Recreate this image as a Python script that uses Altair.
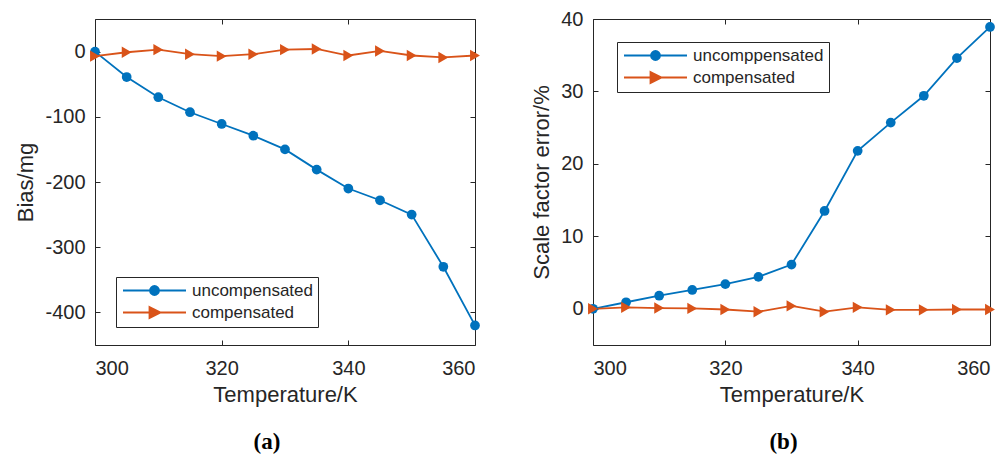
import altair as alt
import pandas as pd

temps = [300, 305, 310, 315, 320, 325, 330, 335, 340, 345, 350, 355, 360]

bias_uncomp = [0, -39, -70, -93, -111, -129, -150, -181, -210, -228, -250, -330, -420]
bias_comp = [-7, -1, 3, -4, -7, -4, 3, 4, -6, 1, -6, -9, -6]

sf_uncomp = [0, 0.9, 1.8, 2.6, 3.4, 4.4, 6.1, 13.5, 21.8, 25.7, 29.4, 34.6, 38.9]
sf_comp = [0, 0.2, 0.1, 0.05, -0.1, -0.4, 0.4, -0.4, 0.2, -0.15, -0.15, -0.1, -0.1]

names_a = ["uncompensated", "compensated"]
names_b = ["uncomppensated", "compensated"]

x_ticks = [300, 320, 340, 360]
y_ticks_a = [-400, -300, -200, -100, 0]
y_ticks_b = [0, 10, 20, 30, 40]

BLUE = "#0072BD"
ORANGE = "#D95319"
INK = "#262626"
FONT = "Liberation Sans"

# legend symbol paths (unit = 5px at size 100): line through marker
P_CIRCLE = "M-6.3,0L6.3,0M0.9,0A0.9,0.9,0,1,1,-0.9,0A0.9,0.9,0,1,1,0.9,0Z"
P_TRI = "M-6.3,0L6.3,0M-1,-1.1L1.2,0L-1,1.1Z"


def pick(a, b):
    return {"expr": "datum.index === 0 ? '%s' : '%s'" % (a, b)}


def panel(names, unc, comp, ydom, yticks, ytitle, lx, ly, caption, cap_dx):
    df = pd.DataFrame({
        "T": temps + temps,
        "v": unc + comp,
        "s": [names[0]] * len(temps) + [names[1]] * len(temps),
    })
    color_scale = alt.Scale(domain=names, range=[BLUE, ORANGE])
    shape_scale = alt.Scale(range=["circle", "triangle-right"])
    size_scale = alt.Scale(range=[95, 130])
    xs = alt.Scale(domain=[300, 360], nice=False)
    ys = alt.Scale(domain=ydom, nice=False, zero=False)
    legend = alt.Legend(
        orient="none", legendX=lx, legendY=ly, title=None,
        padding=5, rowPadding=4, symbolOffset=25, labelOffset=29,
        strokeColor=INK, fillColor="white",
        labelFont=FONT, labelFontSize=17, labelColor=INK,
        symbolSize=100, symbolStrokeWidth=1.8, symbolOpacity=1,
        symbolType=pick(P_CIRCLE, P_TRI),
        symbolFillColor=pick(BLUE, ORANGE),
        symbolStrokeColor=pick(BLUE, ORANGE),
    )
    base = alt.Chart(df)
    # layer 1: invisible points carrying the legend and the labelled axes
    guide = base.mark_point(filled=True, size=0).encode(
        x=alt.X("T:Q", scale=xs,
                axis=alt.Axis(orient="bottom", values=x_ticks, offset=-5, tickSize=5,
                              labelPadding=13, title="Temperature/K", titlePadding=6)),
        y=alt.Y("v:Q", scale=ys,
                axis=alt.Axis(orient="left", values=yticks, offset=-5, tickSize=5,
                              labelPadding=10, title=ytitle, titlePadding=7,
                              labelExpr="'' + datum.value")),
        color=alt.Color("s:N", scale=color_scale, legend=legend),
    )
    # layer 2: lines, with the tick-only top/right axes
    line = base.mark_line(strokeWidth=1.8).encode(
        x=alt.X("T:Q", scale=xs,
                axis=alt.Axis(orient="top", values=x_ticks, offset=-5, tickSize=5,
                              labels=False, title=None)),
        y=alt.Y("v:Q", scale=ys,
                axis=alt.Axis(orient="right", values=yticks, offset=-5, tickSize=5,
                              labels=False, title=None)),
        color=alt.Color("s:N", scale=color_scale, legend=None),
    )
    # layer 3: markers on top of the lines
    pts = base.mark_point(filled=True, opacity=1).encode(
        x=alt.X("T:Q", scale=xs, axis=None),
        y=alt.Y("v:Q", scale=ys, axis=None),
        color=alt.Color("s:N", scale=color_scale, legend=None),
        shape=alt.Shape("s:N", scale=shape_scale, sort=names, legend=None),
        size=alt.Size("s:N", scale=size_scale, sort=names, legend=None),
    )
    return alt.layer(guide, line, pts).resolve_axis(x="independent", y="independent").properties(
        title=alt.Title(caption, orient="bottom", anchor="middle", font="Liberation Serif",
                        fontSize=23, fontWeight="bold", color="black", offset=26, dx=cap_dx)
    )


pa = panel(names_a, bias_uncomp, bias_comp, [-450, 50], y_ticks_a, "Bias/mg", 21, 258, "(a)", -18).properties(width=380, height=326)
pb = panel(names_b, sf_uncomp, sf_comp, [-5, 40], y_ticks_b, "Scale factor error/%", 24, 23, "(b)", -8).properties(width=397, height=326)

chart = alt.hconcat(pa, pb, spacing=118, bounds="flush").resolve_scale(
    x="independent", y="independent", color="independent", shape="independent", size="independent"
).properties(
    padding={"left": 6, "top": 0, "right": 0, "bottom": 0}
).configure_view(
    stroke=INK, strokeWidth=1
).configure_axis(
    domain=False, grid=False, tickColor=INK, labelColor=INK, titleColor=INK,
    labelFont=FONT, titleFont=FONT, labelFontSize=20, titleFontSize=22,
    titleFontWeight="normal"
)

chart.save("out.html", embed_options={"renderer": "svg", "actions": False})
